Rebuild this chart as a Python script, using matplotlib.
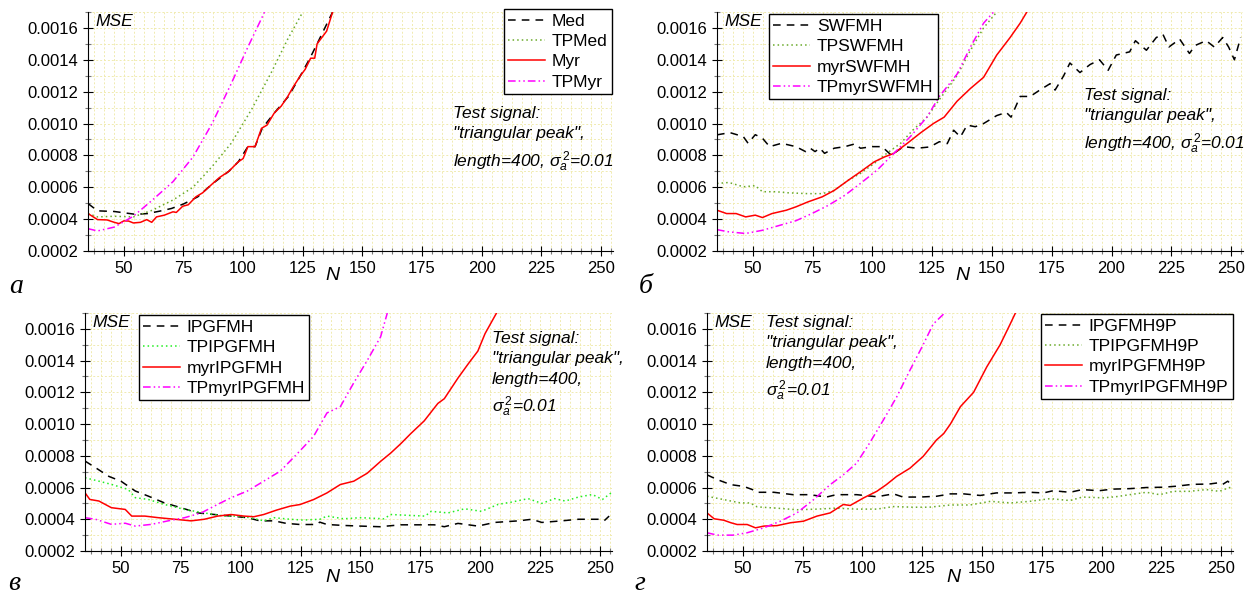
import numpy as np
import matplotlib
matplotlib.use("Agg")
import matplotlib.pyplot as plt
from matplotlib.ticker import MultipleLocator, FormatStrFormatter

plt.rcParams['font.family'] = ['Liberation Sans', 'DejaVu Sans']
plt.rcParams['mathtext.fontset'] = 'custom'
plt.rcParams['mathtext.rm'] = 'Liberation Sans'
plt.rcParams['mathtext.it'] = 'Liberation Sans:italic'

# ---- panel a ----
a_med_n = [35, 39, 46, 50, 55, 60, 65, 70, 75, 81, 87, 94, 98, 102, 105, 108, 113, 119, 124, 128, 131, 137.5]
a_med = [0.000498, 0.000452, 0.000448, 0.000440, 0.000430, 0.000435, 0.000450, 0.000467, 0.000495, 0.000540,
         0.00062, 0.00070, 0.00076, 0.000855, 0.000855, 0.00097, 0.001065, 0.00117, 0.00130, 0.00141, 0.00150, 0.0017]
a_tpmed_n = [35, 39, 46, 54, 62, 70.6, 79, 87, 95, 103.6, 111.8, 118.7, 125]
a_tpmed = [0.000435, 0.000414, 0.000418, 0.000414, 0.000456, 0.00052, 0.0006, 0.00073, 0.000876, 0.00109,
           0.00132, 0.00153, 0.0017]
a_myr_n = [35, 39, 43, 46, 48, 50, 52, 54, 57, 59.6, 61.7, 63.7, 67, 70.6, 72, 74.7, 77, 80.2, 83, 87, 90, 94,
           98, 100, 102, 105, 107.7, 110, 113, 116, 118.7, 121, 124, 126, 128.3, 130, 131, 133, 135, 137.5]
a_myr = [0.000435, 0.000397, 0.000395, 0.00038, 0.000372, 0.000389, 0.000388, 0.000376, 0.00038, 0.000397,
         0.00038, 0.000414, 0.000425, 0.000446, 0.000442, 0.000481, 0.00049, 0.00054, 0.000565, 0.00062, 0.00066,
         0.0007, 0.00076, 0.00078, 0.000855, 0.000855, 0.00097, 0.00099, 0.001065, 0.00111, 0.00117, 0.00123,
         0.0013, 0.00134, 0.00141, 0.00141, 0.0015, 0.00154, 0.00158, 0.0017]
a_tpmyr_n = [35, 39, 46, 54, 62, 70.6, 79, 87, 95, 102, 109]
a_tpmyr = [0.00034, 0.000326, 0.00035, 0.000418, 0.00052, 0.000635, 0.00079, 0.001, 0.00125, 0.00148, 0.0017]

# ---- panel b ----
b_sw_n = [35, 40.4, 46, 48, 51, 54, 57, 62, 68, 72, 74, 76, 78, 80, 84, 88.5, 92.6, 95, 100, 104, 108, 109,
          113, 118.7, 124, 128, 131.3, 134, 136.8, 139.6, 143, 146.5, 152, 156, 158, 161.8, 166, 170, 174.3,
          176.4, 180, 182.6, 186.8, 191, 195, 198.6, 202, 207.6, 210, 214.6, 218.75, 221.5, 224, 228.5, 232.6,
          235, 239.6, 243, 246.5, 249, 251.4, 254]
b_sw = [0.000929, 0.000943, 0.000918, 0.000876, 0.00093, 0.000908, 0.000855, 0.000876, 0.000855, 0.000824,
        0.000845, 0.000824, 0.000845, 0.000813, 0.000845, 0.000855, 0.000872, 0.000845, 0.000855, 0.000855,
        0.0008, 0.000813, 0.000855, 0.000845, 0.000853, 0.000886, 0.000874, 0.000958, 0.000916, 0.00099,
        0.00098, 0.001, 0.00105, 0.00107, 0.00104, 0.00117, 0.00117, 0.00121, 0.00125, 0.00121, 0.0013,
        0.00138, 0.00132, 0.00137, 0.0014, 0.001334, 0.00143, 0.00145, 0.00152, 0.00146, 0.00154, 0.00156,
        0.00148, 0.00153, 0.00144, 0.00149, 0.00152, 0.00148, 0.00154, 0.00148, 0.0014, 0.00154]
b_tpsw_n = [35, 40, 46, 51, 54, 59.6, 65, 73, 79, 84, 90, 95, 100.8, 106, 111.8, 117, 122.8, 128, 135.4,
            141, 146.5, 152]
b_tpsw = [0.000624, 0.00063, 0.000603, 0.00061, 0.000572, 0.000572, 0.000565, 0.00056, 0.00056, 0.00058,
          0.000645, 0.000687, 0.00075, 0.000813, 0.000876, 0.00096, 0.00104, 0.00115, 0.0013, 0.00146,
          0.0016, 0.0017]
b_myrsw_n = [35, 39, 43, 47, 51, 54, 58, 64, 68, 73, 79, 84, 90, 95, 100.8, 105, 109, 114.6, 120, 125.5,
             130, 135.4, 141, 146.5, 152, 157.6, 161.8, 164.6]
b_myrsw = [0.000456, 0.000435, 0.000435, 0.000414, 0.000425, 0.00041, 0.000435, 0.000456, 0.000477, 0.000508,
           0.00054, 0.00058, 0.000645, 0.000697, 0.00076, 0.00079, 0.000813, 0.000876, 0.00094, 0.001,
           0.00104, 0.00114, 0.00122, 0.00129, 0.00143, 0.00154, 0.00163, 0.0017]
b_tpmyrsw_n = [35, 40, 47, 54, 61, 68, 74.7, 81.6, 88.5, 95, 102, 109, 116, 122.8, 128, 135.4, 141, 146.5, 150.7]
b_tpmyrsw = [0.000334, 0.00032, 0.00031, 0.00033, 0.00036, 0.00039, 0.000435, 0.000487, 0.00055, 0.000624,
             0.000708, 0.000813, 0.00092, 0.00104, 0.00117, 0.00131, 0.00148, 0.00163, 0.0017]

# ---- panel c ----
c_ip_n = [35, 39.4, 45, 50, 56, 61.4, 68, 75, 82, 89, 96, 102.8, 108, 114, 119, 124.8, 131.8, 133, 136, 143,
          150, 158, 166.8, 175, 180.8, 185, 190.7, 199, 206, 216, 221.5, 225.7, 234, 241, 249.6, 251.7, 253.8]
c_ip = [0.000767, 0.000725, 0.00067, 0.00064, 0.000578, 0.000546, 0.000504, 0.000473, 0.00044, 0.00043,
        0.00042, 0.00041, 0.00039, 0.00039, 0.000374, 0.000367, 0.000367, 0.000382, 0.000367, 0.000361,
        0.000357, 0.000353, 0.000365, 0.000365, 0.000365, 0.000353, 0.000374, 0.000357, 0.00038, 0.00039,
        0.0004, 0.00038, 0.00039, 0.0004, 0.0004, 0.00039, 0.00042]
c_tpip_n = [35, 40.8, 46, 53, 56, 61.4, 68, 76.6, 84.8, 93, 98.6, 104, 109.6, 113.8, 120.7, 126, 133, 136,
            143, 150, 159.8, 162.6, 171, 177, 179.5, 186.5, 193.5, 200.5, 207.5, 213, 220, 225.7, 231, 235.5,
            241, 246.8, 251, 255]
c_tpip = [0.000662, 0.00064, 0.00062, 0.000588, 0.000536, 0.000525, 0.000494, 0.000462, 0.00044, 0.00042,
          0.00042, 0.00041, 0.00039, 0.00041, 0.0004, 0.000395, 0.0004, 0.00042, 0.000403, 0.00041, 0.000403,
          0.00043, 0.000424, 0.00042, 0.00045, 0.00044, 0.000466, 0.00045, 0.000494, 0.000508, 0.00053,
          0.0005, 0.00053, 0.000515, 0.00054, 0.000556, 0.000525, 0.00057]
c_myrip_n = [35, 37, 40.8, 46, 51.8, 54.5, 60, 65.6, 72.5, 79.3, 84.8, 90.4, 96, 101.4, 105.5, 109.6, 115,
             120.7, 124.8, 130.4, 136, 141.6, 147.2, 152.8, 158.4, 162.6, 166.8, 171, 176.6, 182.3, 185,
             190.7, 195, 199, 202, 206.8]
c_myrip = [0.000567, 0.000525, 0.000515, 0.000473, 0.000462, 0.00042, 0.00042, 0.00041, 0.0004, 0.00039,
           0.0004, 0.00042, 0.00043, 0.00042, 0.000416, 0.00043, 0.000458, 0.000483, 0.000493, 0.000524,
           0.000566, 0.000619, 0.00064, 0.00069, 0.000765, 0.000817, 0.000876, 0.00094, 0.00102, 0.00113,
           0.00116, 0.00129, 0.00138, 0.00146, 0.00157, 0.0017]
c_tpmyrip_n = [35, 39.4, 46, 51.8, 56, 62.8, 69.7, 76.6, 83.5, 90.4, 96, 102.8, 109.6, 116.5, 123.4, 130.4,
               136, 141.6, 147.2, 152.8, 158.4, 161.2]
c_tpmyrip = [0.00041, 0.0004, 0.000368, 0.000375, 0.000357, 0.000368, 0.00039, 0.00041, 0.00044, 0.000494,
             0.000536, 0.000578, 0.00064, 0.000703, 0.00081, 0.000922, 0.00107, 0.00111, 0.00126, 0.0014,
             0.00155, 0.0017]

# ---- panel d ----
d_ip9_n = [35, 39.3, 45, 50.4, 54, 56, 63, 71, 78, 85, 89, 97.6, 106, 113, 117, 124, 131, 136.8, 142.4,
           149.3, 156, 163, 170, 175.7, 179.8, 186.8, 192, 199, 204.6, 211.8, 218.75, 225.7, 231, 238, 245,
           249, 250.7, 252.8, 255]
d_ip9 = [0.00068, 0.00065, 0.000618, 0.000607, 0.000587, 0.00057, 0.00057, 0.000555, 0.000555, 0.00054,
         0.000555, 0.000555, 0.000542, 0.00056, 0.00054, 0.00054, 0.000545, 0.00056, 0.00056, 0.00055,
         0.000566, 0.000566, 0.00057, 0.000566, 0.00058, 0.00057, 0.000587, 0.00058, 0.00059, 0.000593,
         0.0006, 0.000602, 0.000608, 0.00062, 0.000622, 0.00063, 0.00062, 0.00064, 0.00061]
d_tpip9_n = [35, 42, 49, 53, 56, 64.3, 72.6, 81, 89, 97.6, 106, 113, 121, 128, 136.8, 145, 153.5, 162, 170,
             178.5, 186.8, 192, 200.7, 206, 211.8, 218.75, 224.3, 230, 236.8, 243.75, 249.3, 253.5, 255]
d_tpip9 = [0.000545, 0.000524, 0.000503, 0.000503, 0.000478, 0.00047, 0.00046, 0.000464, 0.00047, 0.000464,
           0.000464, 0.00048, 0.000476, 0.000476, 0.00049, 0.00049, 0.000513, 0.000503, 0.000513, 0.00053,
           0.000518, 0.00054, 0.000535, 0.000542, 0.000555, 0.00057, 0.000555, 0.000576, 0.000576, 0.000587,
           0.000576, 0.0006, 0.000595]
d_myrip9_n = [35, 38, 42, 45, 47.6, 51.8, 55.3, 58.75, 64.3, 69.9, 75.4, 81, 86.5, 92, 94.9, 100.4, 106,
              110, 114.3, 119.9, 125.4, 131, 134, 136.8, 141, 146.5, 152, 157.6, 161.8, 164]
d_myrip9 = [0.00044, 0.000403, 0.000394, 0.000378, 0.000367, 0.000367, 0.000346, 0.000357, 0.00036, 0.000378,
            0.000388, 0.00042, 0.00044, 0.000493, 0.000487, 0.000534, 0.000576, 0.000618, 0.00067, 0.000722,
            0.000796, 0.0009, 0.00094, 0.001, 0.00111, 0.0012, 0.00136, 0.0015, 0.00163, 0.0017]
d_tpmyrip9_n = [35, 39.3, 46, 51.8, 58.75, 65.7, 72.6, 79.6, 86.5, 92, 97.6, 103, 108.75, 114.3, 119.9,
                125.4, 129.6, 134.4]
d_tpmyrip9 = [0.000315, 0.0003, 0.0003, 0.000315, 0.000346, 0.000388, 0.00044, 0.000524, 0.000618, 0.00068,
              0.000754, 0.00088, 0.001025, 0.00117, 0.00134, 0.0015, 0.00163, 0.0017]

labels_a = ["Med", "TPMed", "Myr", "TPMyr"]
labels_b = ["SWFMH", "TPSWFMH", "myrSWFMH", "TPmyrSWFMH"]
labels_c = ["IPGFMH", "TPIPGFMH", "myrIPGFMH", "TPmyrIPGFMH"]
labels_d = ["IPGFMH9P", "TPIPGFMH9P", "myrIPGFMH9P", "TPmyrIPGFMH9P"]

note3 = "Test signal:\n\"triangular peak\",\nlength=400, $\\sigma_a^{\\,2}$=0.01"
note4 = "Test signal:\n\"triangular peak\",\nlength=400,\n$\\sigma_a^{\\,2}$=0.01"

fig = plt.figure(figsize=(12.53, 5.95), dpi=100)
W, H = 1253, 595


def make_ax(l, r, t, b):
    return fig.add_axes([l / W, 1 - b / H, (r - l) / W, (b - t) / H])


def style(ax):
    ax.set_xlim(35, 255)
    ax.set_ylim(0.0002, 0.0017)
    ax.xaxis.set_major_locator(MultipleLocator(25))
    ax.xaxis.set_minor_locator(MultipleLocator(25 / 6))
    ax.yaxis.set_major_locator(MultipleLocator(0.0002))
    ax.yaxis.set_minor_locator(MultipleLocator(0.0001))
    ax.yaxis.set_major_formatter(FormatStrFormatter('%.4f'))
    ax.spines['top'].set_visible(False)
    ax.spines['right'].set_visible(False)
    ax.tick_params(which='both', direction='inout', labelsize=12, width=0.8)
    ax.tick_params(which='major', length=7)
    ax.tick_params(which='minor', length=4, color='#777777')
    ax.grid(which='both', color='#f0ebb0', linestyle=(0, (2, 2)), linewidth=0.7)
    ax.set_axisbelow(True)
    ax.text(0.014, 0.99, "MSE", transform=ax.transAxes, style='italic', fontsize=12.5, va='top')


def draw(ax, series, labels, green, legloc):
    styles = [dict(color='black', linestyle=(0, (5, 4))),
              dict(color=green, linestyle=(0, (1, 2))),
              dict(color='red', linestyle='-'),
              dict(color='magenta', linestyle=(0, (5, 2, 1, 2, 1, 2)))]
    for (n, v), lab, st in zip(series, labels, styles):
        ax.plot(n, v, linewidth=1.1, label=lab, **st)
    leg = ax.legend(loc='upper left', bbox_to_anchor=legloc, fontsize=12.5, frameon=True, fancybox=False,
                    handlelength=2.1, labelspacing=0.3, borderpad=0.25, handletextpad=0.4,
                    borderaxespad=0)
    leg.get_frame().set_edgecolor('black')
    leg.get_frame().set_linewidth(1.0)
    leg.get_frame().set_alpha(1)


ax1 = make_ax(88, 613, 12, 251)
style(ax1)
draw(ax1, [(a_med_n, a_med), (a_tpmed_n, a_tpmed), (a_myr_n, a_myr), (a_tpmyr_n, a_tpmyr)],
     labels_a, '#6aaa2a', ((504 - 88) / 525, 1.012))
ax1.text((453 - 88) / 525, (251 - 106) / 239, note3, transform=ax1.transAxes, style='italic',
         fontsize=12.5, va='top', linespacing=1.45)

ax2 = make_ax(717, 1243, 12, 251)
style(ax2)
draw(ax2, [(b_sw_n, b_sw), (b_tpsw_n, b_tpsw), (b_myrsw_n, b_myrsw), (b_tpmyrsw_n, b_tpmyrsw)],
     labels_b, '#6aaa2a', ((769 - 717) / 526, 0.99))
ax2.text((1084 - 717) / 526, (251 - 88) / 239, note3, transform=ax2.transAxes, style='italic',
         fontsize=12.5, va='top', linespacing=1.45)

ax3 = make_ax(85, 612, 313, 551)
style(ax3)
draw(ax3, [(c_ip_n, c_ip), (c_tpip_n, c_tpip), (c_myrip_n, c_myrip), (c_tpmyrip_n, c_tpmyrip)],
     labels_c, '#22ee22', ((139 - 85) / 527, 0.99))
ax3.text((492 - 85) / 527, (551 - 331) / 238, note4, transform=ax3.transAxes, style='italic',
         fontsize=12.5, va='top', linespacing=1.45)

ax4 = make_ax(707, 1233, 313, 551)
style(ax4)
draw(ax4, [(d_ip9_n, d_ip9), (d_tpip9_n, d_tpip9), (d_myrip9_n, d_myrip9), (d_tpmyrip9_n, d_tpmyrip9)],
     labels_d, '#6aaa2a', ((1041 - 707) / 526, 0.995))
ax4.text((766 - 707) / 526, (551 - 315) / 238, note4, transform=ax4.transAxes, style='italic',
         fontsize=12.5, va='top', linespacing=1.45)

# axis name N and panel letters
for x, y in [(332, 276), (962, 276), (332, 578), (953, 578)]:
    fig.text(x / W, 1 - y / H, "N", style='italic', fontsize=14, ha='center', va='center')
for x, y, s in [(16, 286, "а"), (646, 286, "б"), (14, 584, "в"), (640, 584, "г")]:
    fig.text(x / W, 1 - y / H, s, family='Liberation Serif', style='italic', fontsize=20,
             ha='center', va='center')

fig.savefig("out.png", dpi=100)
